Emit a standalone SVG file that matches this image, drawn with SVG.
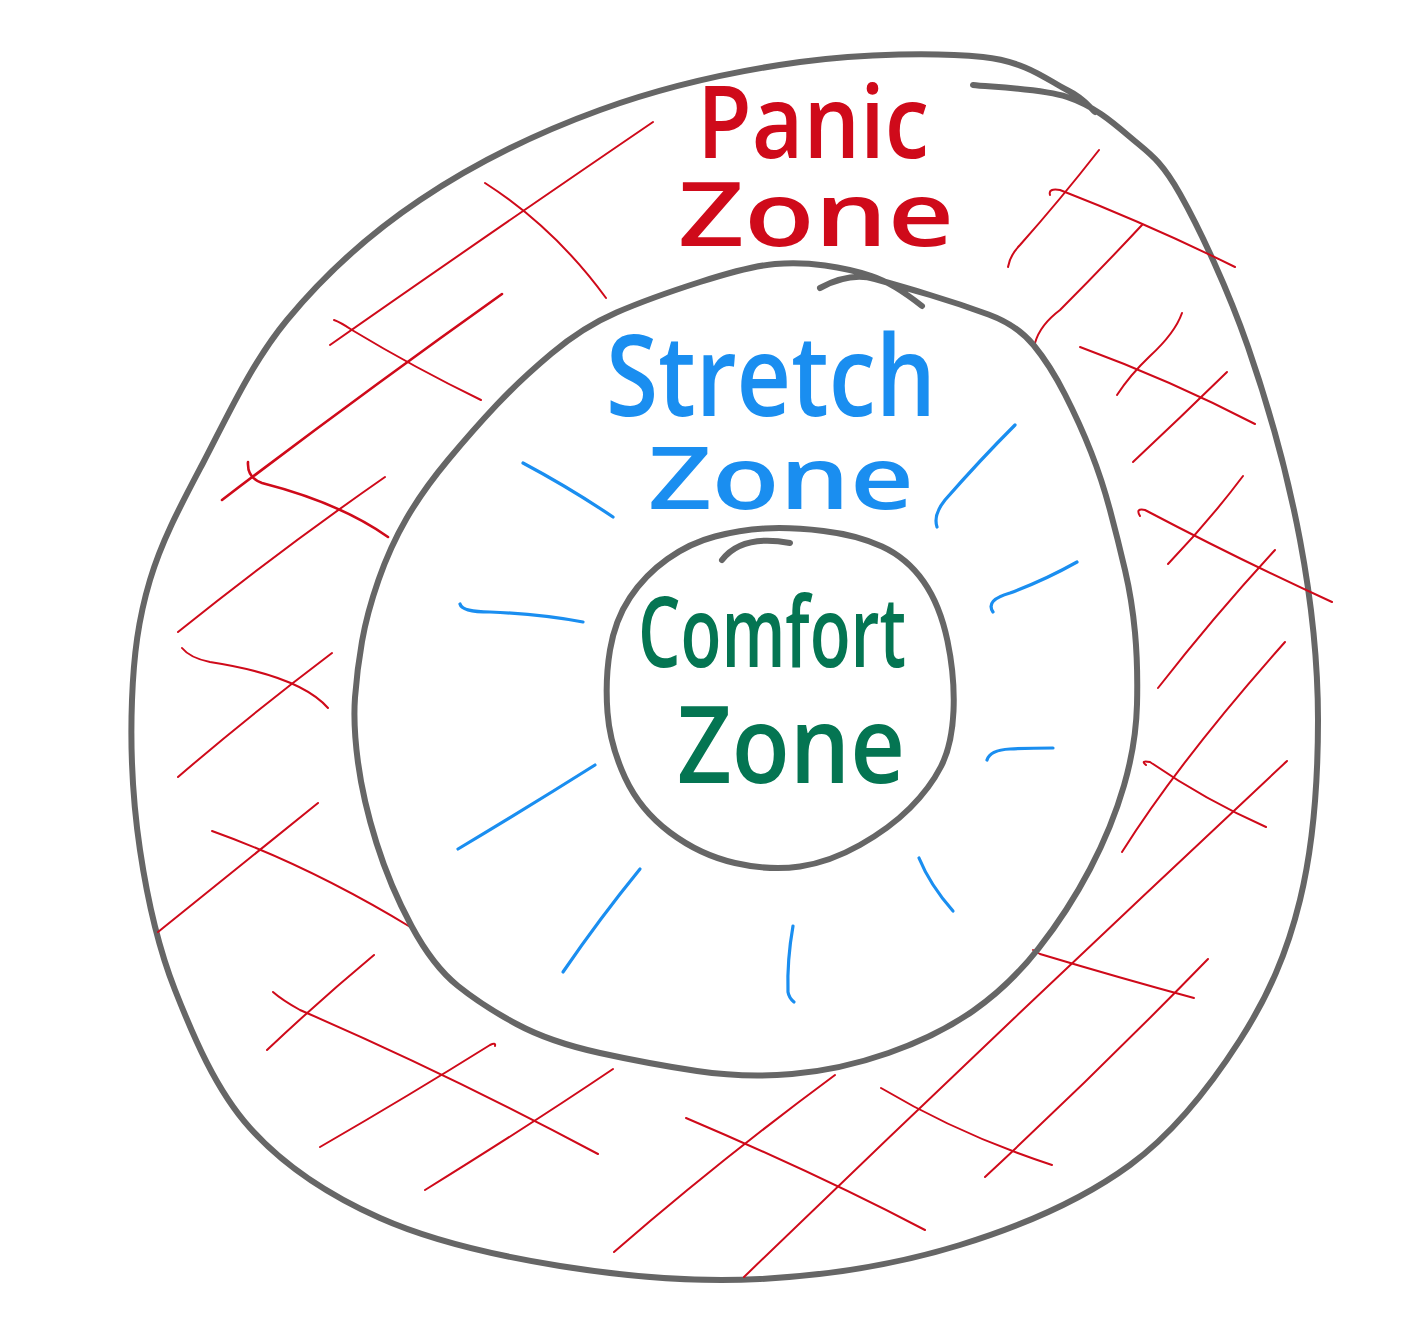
<svg xmlns="http://www.w3.org/2000/svg" width="1408" height="1338" viewBox="0 0 1408 1338">
<style>
.loop{fill:none;stroke:#666666;stroke-width:6;stroke-linecap:round;stroke-linejoin:round}
.hatch{fill:none;stroke:#cf0a1a;stroke-width:2;stroke-linecap:round;stroke-linejoin:round}
.thick{stroke-width:2.6}
.tick{fill:none;stroke:#1a8ef0;stroke-width:3.2;stroke-linecap:round;stroke-linejoin:round}
.lbl{font-family:"Open Sans","Noto Sans","Liberation Sans",sans-serif;font-weight:600}
.red{fill:#cf0a1a}.blue{fill:#1a8ef0}.green{fill:#047552}
</style>
<rect width="1408" height="1338" fill="#ffffff"/>
<g id="panic-zone">
<path class="loop" d="M973,85 C988.7,87 1040.8,88.3 1067,97 C1093.2,105.7 1111.2,120.8 1130,137 C1148.8,153.2 1160.3,159 1180,194 C1199.7,229 1228,289.3 1248,347 C1268,404.7 1288.3,477.8 1300,540 C1311.7,602.2 1318,660 1318,720 C1318,780 1313,846.7 1300,900 C1287,953.3 1268.3,995.8 1240,1040 C1211.7,1084.2 1176.7,1130.8 1130,1165 C1083.3,1199.2 1021.7,1226 960,1245 C898.3,1264 826.7,1275.5 760,1279 C693.3,1282.5 623.3,1276.2 560,1266 C496.7,1255.8 431.7,1241 380,1218 C328.3,1195 284.2,1166 250,1128 C215.8,1090 193.3,1036.3 175,990 C156.7,943.7 147.2,898.3 140,850 C132.8,801.7 130.3,745 132,700 C133.7,655 138.2,619.5 150,580 C161.8,540.5 180.2,506.3 203,463 C225.8,419.7 250.8,363.8 287,320 C323.2,276.2 367.8,235 420,200 C472.2,165 536.7,133 600,110 C663.3,87 736.2,70.8 800,62 C863.8,53.2 938.5,52.3 983,57 C1027.5,61.7 1048.3,80.8 1067,90 C1085.7,99.2 1090.3,108.3 1095,112"/>
<g id="panic-hatching">
<path class="hatch" d="M330,345 Q480,240 653,122"/>
<path class="hatch" d="M485,183 Q555,228 606,298"/>
<path class="hatch" d="M334,320 Q340,322 352,330 Q415,368 481,400"/>
<path class="hatch thick" d="M222,500 Q360,395 502,294"/>
<path class="hatch thick" d="M248,462 Q247,478 262,483 Q340,503 388,537"/>
<path class="hatch" d="M178,632 Q280,550 385,477"/>
<path class="hatch" d="M182,648 Q190,658 210,662 Q300,676 328,708"/>
<path class="hatch" d="M178,777 Q250,715 332,653"/>
<path class="hatch" d="M212,831 Q310,866 412,928"/>
<path class="hatch" d="M158,932 Q240,866 318,803"/>
<path class="hatch" d="M273,992 Q282,1000 300,1010 Q450,1075 598,1154"/>
<path class="hatch" d="M267,1050 Q320,1000 374,955"/>
<path class="hatch" d="M320,1147 Q410,1095 490,1045 Q496,1042 495,1046"/>
<path class="hatch" d="M425,1190 Q530,1125 613,1069"/>
<path class="hatch" d="M686,1118 Q820,1175 925,1230"/>
<path class="hatch" d="M614,1252 Q720,1160 835,1075"/>
<path class="hatch" d="M744,1277 Q1010,1020 1287,761"/>
<path class="hatch" d="M1033,950 L1040,954 Q1120,978 1194,998"/>
<path class="hatch" d="M985,1177 Q1100,1070 1208,959"/>
<path class="hatch" d="M881,1088 Q960,1135 1052,1165"/>
<path class="hatch" d="M1122,852 Q1180,760 1285,642"/>
<path class="hatch" d="M1146,765 Q1140,760 1150,762 Q1205,800 1266,827"/>
<path class="hatch" d="M1158,688 Q1215,615 1275,550"/>
<path class="hatch" d="M1140,516 Q1135,508 1145,510 Q1240,560 1332,602"/>
<path class="hatch" d="M1168,564 Q1210,520 1243,476"/>
<path class="hatch" d="M1133,462 Q1180,418 1227,372"/>
<path class="hatch" d="M1080,347 Q1170,380 1255,424"/>
<path class="hatch" d="M1117,395 Q1130,375 1150,356 Q1175,333 1182,313"/>
<path class="hatch" d="M1035,343 Q1040,325 1060,310 Q1100,270 1142,225"/>
<path class="hatch" d="M1050,195 Q1048,188 1060,190 Q1150,225 1235,267"/>
<path class="hatch" d="M1008,267 Q1010,255 1020,245 Q1060,200 1099,150"/>
</g>
<text class="lbl red" x="697" y="158" font-size="102" textLength="232" lengthAdjust="spacingAndGlyphs">Panic</text>
<text class="lbl red" x="678" y="246" font-size="88" textLength="276" lengthAdjust="spacingAndGlyphs">Zone</text>
</g>
<g id="stretch-zone">
<path class="loop" d="M820,288 Q850,272 875,279 Q900,286 930,295 Q960,304 988.5,314.5 Q1017,325 1033.5,345 Q1050,365 1065,394.5 Q1080,424 1091,452 Q1102,480 1110,510 Q1118,540 1125,570 Q1132,600 1135,632.5 Q1138,665 1137,704.5 Q1136,744 1124,785.5 Q1112,827 1090,869 Q1068,911 1038.5,948.5 Q1009,986 973,1011 Q937,1036 888.5,1053 Q840,1070 792,1074 Q744,1078 697,1071 Q650,1064 600,1053 Q550,1042 516.5,1024 Q483,1006 458,986 Q433,966 411.5,926 Q390,886 376.5,843 Q363,800 358,762.5 Q353,725 355,697.5 Q357,670 362,641.5 Q367,613 378.5,580 Q390,547 406.5,518.5 Q423,490 448,460 Q473,430 496.5,405 Q520,380 551.5,353.5 Q583,327 616.5,312.5 Q650,298 700,282 Q750,266 775,264 Q800,262 825,265.5 Q850,269 871.5,276 Q893,283 922,306"/>
<g id="stretch-rays">
<path class="tick" d="M523,463 Q570,488 613,517"/>
<path class="tick" d="M937,527 Q933,515 945,500 Q980,460 1015,425"/>
<path class="tick" d="M460,604 Q462,612 490,612 Q540,614 583,622"/>
<path class="tick" d="M993,612 Q985,600 1010,593 Q1045,580 1077,562"/>
<path class="tick" d="M987,760 Q990,750 1010,749 Q1030,748 1053,748"/>
<path class="tick" d="M458,849 Q530,806 595,765"/>
<path class="tick" d="M563,972 Q600,918 640,869"/>
<path class="tick" d="M919,858 Q930,885 953,911"/>
<path class="tick" d="M793,926 Q787,960 788,992 Q789,998 794,1002"/>
</g>
<text class="lbl blue" x="606" y="416" font-size="112" textLength="330" lengthAdjust="spacingAndGlyphs">Stretch</text>
<text class="lbl blue" x="648" y="509" font-size="86" textLength="266" lengthAdjust="spacingAndGlyphs">Zone</text>
</g>
<g id="comfort-zone">
<path class="loop" d="M765,528.5 Q790,527 823.5,531 Q857,535 882,546.5 Q907,558 923.5,581.5 Q940,605 947.5,641 Q955,677 953.5,711 Q952,745 941,766.5 Q930,788 910,808 Q890,828 860,845 Q830,862 800,866.5 Q770,871 735,863 Q700,855 670,832.5 Q640,810 625,777.5 Q610,745 607.5,712.5 Q605,680 610,650 Q615,620 630,597.5 Q645,575 667.5,559 Q690,543 715,536.5 Q740,530 765,528.5 Z"/>
<path class="loop" d="M722,560 Q742,534 790,543"/>
<text class="lbl green" x="638" y="667" font-size="98" textLength="268" lengthAdjust="spacingAndGlyphs">Comfort</text>
<text class="lbl green" x="677" y="783" font-size="106" textLength="228" lengthAdjust="spacingAndGlyphs">Zone</text>
</g>
</svg>
